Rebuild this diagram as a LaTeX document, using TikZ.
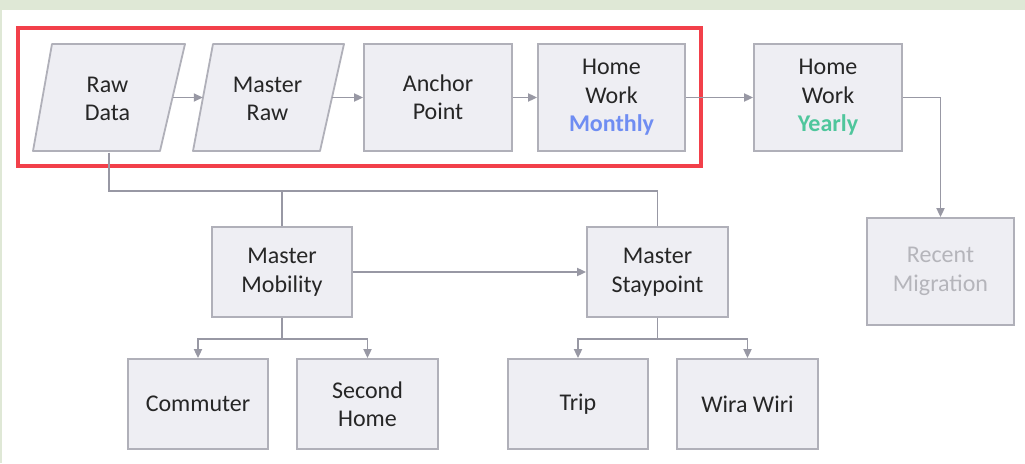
\documentclass[tikz,border=0pt]{standalone}
\usepackage{fontspec}
\setmainfont{Carlito}
\usetikzlibrary{arrows.meta}
\definecolor{bgreen}{HTML}{DFE8D6}
\definecolor{boxfill}{HTML}{EEEEF3}
\definecolor{boxline}{HTML}{B0B0B9}
\definecolor{conncol}{HTML}{9898A4}
\definecolor{hl}{HTML}{F2404A}
\definecolor{txt}{HTML}{262626}
\definecolor{monthly}{HTML}{6F8DF2}
\definecolor{yearly}{HTML}{4FC69C}
\definecolor{faded}{HTML}{B5B5BB}
\begin{document}
\begin{tikzpicture}[x=1pt,y=-1pt,
  lbl/.style={inner sep=0pt, align=center, text=txt, font=\fontsize{24}{28.5}\selectfont},
  box/.style={lbl, draw=boxline, fill=boxfill, line width=1.8pt},
  parashape/.style={draw=boxline, fill=boxfill, line width=1.8pt, line join=round},
  conn/.style={draw=conncol, line width=1.8pt},
  arr/.style={conn, -{Triangle[length=9pt,width=8pt]}},
  hlbox/.style={draw=hl, line width=3.5pt},
]
\useasboundingbox (0,0) rectangle (1025,463);
\fill[bgreen] (0,0) rectangle (1025,463);
\fill[white] (2,10) rectangle (1025,463);

% parallelogram shapes
\filldraw[parashape] (33,151) -- (160,151) -- (185,44) -- (52,44) -- cycle;
\filldraw[parashape] (193,151) -- (320,151) -- (344,44) -- (213,44) -- cycle;

\node[lbl, minimum width=130pt, minimum height=107pt] (raw) at (107.5,99) {Raw\\Data};
\node[lbl, minimum width=129pt, minimum height=107pt] (mraw) at (267.5,99) {Master\\Raw};
\node[box, minimum width=148pt, minimum height=107pt] (anchor) at (438,97.5) {Anchor\\Point};
\node[box, minimum width=147pt, minimum height=107pt] (hwm) at (611.5,97.5) {Home\\Work\\{\bfseries\color{monthly}Monthly}};
\node[box, minimum width=148pt, minimum height=107pt] (hwy) at (828,97.5) {Home\\Work\\{\bfseries\color{yearly}Yearly}};
\node[box, text=faded, minimum width=147pt, minimum height=107pt] (recent) at (940.5,271.5) {Recent\\Migration};

\node[box, minimum width=140pt, minimum height=90pt] (mm) at (282,272) {Master\\Mobility};
\node[box, minimum width=141pt, minimum height=90pt] (ms) at (657.5,272) {Master\\Staypoint};

\node[box, minimum width=140pt, minimum height=90pt] (comm) at (198,404) {Commuter};
\node[box, minimum width=141pt, minimum height=90pt] (second) at (367.5,404) {Second\\Home};
\node[box, minimum width=140pt, minimum height=90pt] (trip) at (578,404) {Trip};
\node[box, minimum width=141pt, minimum height=90pt] (wira) at (747.5,404) {Wira Wiri};

\draw[hlbox] (18,28) rectangle (701,166);

% connectors
\draw[arr] ([yshift=1.5pt]raw.east) -- ([yshift=1.5pt]mraw.west);
\draw[arr] ([yshift=1.5pt]mraw.east) -- ([yshift=0pt]anchor.west);
\draw[arr] (anchor.east) -- (hwm.west);
\draw[arr] (hwm.east) -- (hwy.west);
\draw[arr] (hwy.east) -| (recent.north);

\path (raw.south) ++(1.5,38) coordinate (busL);
\draw[conn] ([xshift=1.5pt]raw.south) -- (busL) -| (ms.north);
\draw[conn] (mm.north) -- (mm.north |- busL);
\draw[arr] (mm.east) -- (ms.west);

\path (mm.south) ++(0,21) coordinate (mmj);
\draw[conn] (mm.south) -- (mmj);
\draw[arr] (mmj) -| (comm.north);
\draw[arr] (mmj) -| (second.north);

\path (ms.south) ++(0,21) coordinate (msj);
\draw[conn] (ms.south) -- (msj);
\draw[arr] (msj) -| (trip.north);
\draw[arr] (msj) -| (wira.north);
\end{tikzpicture}
\end{document}
